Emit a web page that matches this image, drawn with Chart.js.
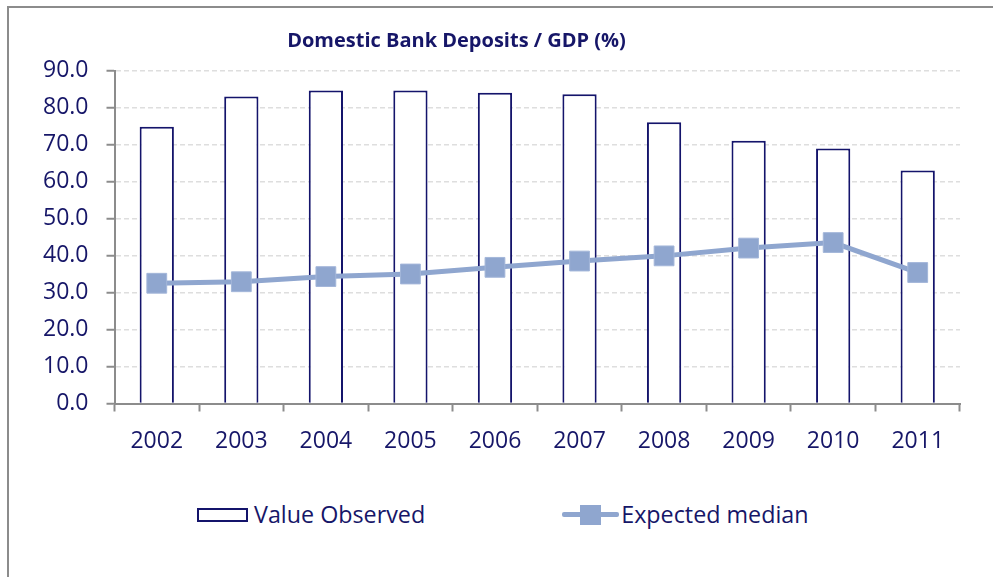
<!DOCTYPE html>
<html>
<head>
<meta charset="utf-8">
<script src="https://cdn.jsdelivr.net/npm/chart.js@4"></script>
<style>
  body { margin: 0; background: #fff; font-family: "Open Sans", sans-serif; }
  #page { position: relative; width: 993px; height: 577px; overflow: hidden; }
  #frame { position: absolute; left: 7px; top: 6px; width: 1000px; height: 600px;
    border-top: 2px solid #8c8c8c; border-left: 2px solid #8c8c8c; }
  #chart { position: absolute; left: 0; top: 0; }
  #title { position: absolute; left: 0; top: 30px; width: 913px; text-align: center;
    font-weight: bold; font-size: 20px; line-height: 20px; color: #161668; }
  #legend { position: absolute; left: 197px; top: 503px; display: flex; gap: 137px;
    font-size: 23.3px; line-height: 23px; color: #161668; }
  .item { display: flex; align-items: center; white-space: nowrap; }
  .box { width: 47px; height: 10px; border: 2px solid #14146b; background: #fff; margin-right: 6px; }
  .lineIcon { position: relative; width: 57px; height: 22px; margin-right: 2px; }
  .lineIcon .stroke { position: absolute; left: 0; top: 8.5px; width: 57px; height: 5px; border-radius: 2px; }
  .lineIcon .mark { position: absolute; left: 18px; top: 1px; width: 21px; height: 20px; }
</style>
</head>
<body>
<div id="page">
  <div id="frame"></div>
  <canvas id="chart" width="993" height="470"></canvas>
  <div id="title">Domestic Bank Deposits / GDP (%)</div>
  <div id="legend"></div>
</div>
<script>
const years = ['2002', '2003', '2004', '2005', '2006', '2007', '2008', '2009', '2010', '2011'];
const valueObserved = [74.8, 83.0, 84.6, 84.6, 84.0, 83.6, 76.0, 71.0, 68.9, 63.0];
const expectedMedian = [32.5, 32.9, 34.3, 35.0, 36.8, 38.5, 39.9, 42.0, 43.5, 35.4];
const yMin = 0;
const yMax = 90;
const yStep = 10;

const navy = '#161668';
const barEdge = '#14146b';
const medianBlue = '#8fa6cf';
const axisGrey = '#8c8c8c';

const chart = new Chart(document.getElementById('chart'), {
  type: 'bar',
  data: {
    labels: years,
    datasets: [
      {
        type: 'line',
        label: 'Expected median',
        data: expectedMedian,
        borderColor: medianBlue,
        backgroundColor: medianBlue,
        borderWidth: 5,
        pointStyle: 'rect',
        pointRadius: 14,
        pointBorderWidth: 1,
        pointBorderColor: '#a3b6d9',
        pointBackgroundColor: medianBlue,
        tension: 0,
        order: 0
      },
      {
        label: 'Value Observed',
        data: valueObserved,
        backgroundColor: '#ffffff',
        borderColor: barEdge,
        borderWidth: 2,
        barPercentage: 0.405,
        categoryPercentage: 1,
        order: 1
      }
    ]
  },
  options: {
    responsive: false,
    animation: false,
    devicePixelRatio: 1,
    layout: { padding: { left: 0, top: 70.5, right: 33, bottom: 16.5 } },
    plugins: {
      legend: { display: false },
      title: { display: false },
      tooltip: { enabled: false }
    },
    scales: {
      x: {
        afterFit: (scale) => { scale.height = 50; },
        grid: {
          offset: true,
          drawOnChartArea: false,
          tickLength: 8,
          tickWidth: 2,
          tickColor: axisGrey
        },
        border: { color: axisGrey, width: 2 },
        ticks: {
          color: navy,
          padding: 16,
          font: { family: 'Open Sans', size: 23 }
        }
      },
      y: {
        min: yMin,
        max: yMax,
        afterFit: (scale) => { scale.width = 114.5; },
        grid: {
          color: '#dedede',
          lineWidth: 1.5,
          tickLength: 8,
          tickWidth: 2,
          tickColor: axisGrey,
          tickBorderDash: []
        },
        border: { color: axisGrey, width: 2, dash: [5, 3] },
        ticks: {
          stepSize: yStep,
          color: navy,
          padding: 18,
          font: { family: 'Open Sans', size: 23 },
          callback: (v) => Number(v).toFixed(1)
        }
      }
    }
  }
});

// legend built from the chart's own datasets, bar entry first
const legendEl = document.getElementById('legend');
chart.data.datasets.slice().reverse().forEach((ds) => {
  const item = document.createElement('div');
  item.className = 'item';
  if (ds.type === 'line') {
    item.innerHTML = '<span class="lineIcon"><span class="stroke"></span><span class="mark"></span></span>';
    item.querySelector('.stroke').style.background = ds.borderColor;
    item.querySelector('.mark').style.background = ds.pointBackgroundColor;
  } else {
    item.innerHTML = '<span class="box"></span>';
  }
  const txt = document.createElement('span');
  txt.textContent = ds.label;
  item.appendChild(txt);
  legendEl.appendChild(item);
});
</script>
</body>
</html>
